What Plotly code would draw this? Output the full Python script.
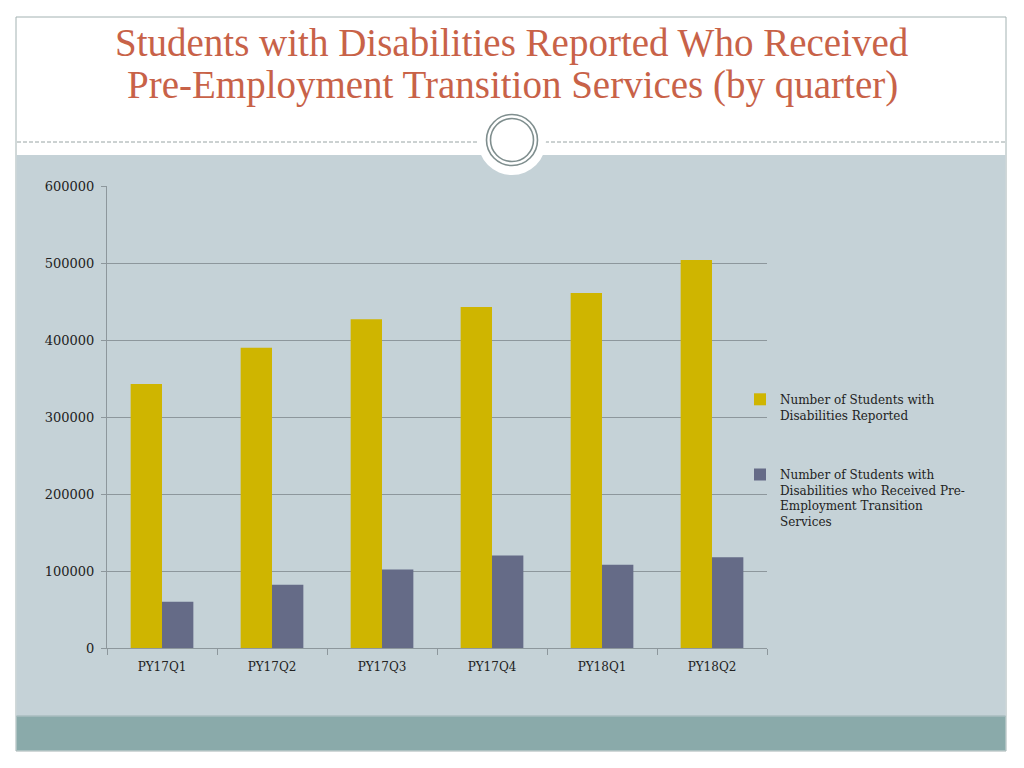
import plotly.graph_objects as go

categories = ["PY17Q1", "PY17Q2", "PY17Q3", "PY17Q4", "PY18Q1", "PY18Q2"]
reported = [343000, 390000, 427000, 443000, 461000, 504000]
received = [60000, 82000, 102000, 120000, 108000, 118000]
series_names = [
    "Number of Students with<br>Disabilities Reported",
    "Number of Students with<br>Disabilities who Received Pre-<br>Employment Transition<br>Services",
]
title_lines = [
    "Students with Disabilities Reported Who Received",
    "Pre-Employment Transition Services (by quarter)",
]

W, H = 1024, 768
PL, PR, PT, PB = 107, 767, 186, 648


def px(x):
    return (x - PL) / (PR - PL)


def py(y):
    return (PB - y) / (PB - PT)


fig = go.Figure()
fig.add_trace(go.Bar(x=categories, y=reported, name=series_names[0],
                     marker=dict(color="#CFB500", line=dict(width=0)),
                     legendgroup="a"))
fig.add_trace(go.Bar(x=categories, y=received, name=series_names[1],
                     marker=dict(color="#656B87", line=dict(width=0)),
                     legendgroup="b"))

grid = "#8D979C"
shapes = [
    # slide frame
    dict(type="rect", xref="paper", yref="paper", x0=px(16), x1=px(1006), y0=py(17), y1=py(751),
         fillcolor="white", line=dict(color="#A3B2B2", width=1), layer="below"),
    # panel
    dict(type="rect", xref="paper", yref="paper", x0=px(16.5), x1=px(1005.5), y0=py(155), y1=py(716),
         fillcolor="#C5D2D7", line=dict(width=0), layer="below"),
    # bottom strip
    dict(type="rect", xref="paper", yref="paper", x0=px(16.5), x1=px(1005.5), y0=py(716), y1=py(750.5),
         fillcolor="#8AAAAA", line=dict(width=0), layer="below"),
    dict(type="line", xref="paper", yref="paper", x0=px(16.5), x1=px(1005.5), y0=py(716), y1=py(716),
         line=dict(color="#A9BDBF", width=1.5), layer="below"),
    # dashed rule
    dict(type="line", xref="paper", yref="paper", x0=px(17), x1=px(1005), y0=py(142), y1=py(142),
         line=dict(color="#98A4A4", width=1, dash="4px,2px"), layer="below"),
    # ornament circle
    dict(type="circle", xref="paper", yref="paper", x0=px(512 - 34), x1=px(512 + 34),
         y0=py(141 - 34), y1=py(141 + 34), fillcolor="white", line=dict(width=0), layer="below"),
    dict(type="circle", xref="paper", yref="paper", x0=px(512 - 25.5), x1=px(512 + 25.5),
         y0=py(140 - 25.5), y1=py(140 + 25.5), fillcolor="rgba(0,0,0,0)",
         line=dict(color="#7F8E8E", width=1.6), layer="below"),
    dict(type="circle", xref="paper", yref="paper", x0=px(512 - 21.5), x1=px(512 + 21.5),
         y0=py(140 - 21.5), y1=py(140 + 21.5), fillcolor="rgba(0,0,0,0)",
         line=dict(color="#7F8E8E", width=1.6), layer="below"),
]

annotations = []
for i, t in enumerate(title_lines):
    annotations.append(dict(text=t, xref="paper", yref="paper", x=px(512), y=py(43 + 42 * i),
                            xanchor="center", yanchor="middle", showarrow=False,
                            font=dict(family="Liberation Serif", size=39, color="#C86248")))

fig.update_layout(
    width=W, height=H,
    margin=dict(l=PL, r=W - PR, t=PT, b=H - PB, pad=0),
    paper_bgcolor="white",
    plot_bgcolor="rgba(0,0,0,0)",
    barmode="group", bargap=0.43, bargroupgap=0,
    shapes=shapes, annotations=annotations,
    showlegend=True,
    legend=dict(x=px(740), y=py(385), xanchor="left", yanchor="top",
                bgcolor="rgba(0,0,0,0)", tracegroupgap=41, valign="top",
                font=dict(family="DejaVu Serif", size=12, color="#222222"),
                itemwidth=30, traceorder="grouped"),
    xaxis=dict(showline=True, linecolor=grid, linewidth=1, ticks="outside", tickson="boundaries",
               ticklen=6, tickcolor=grid, showgrid=False, ticklabelstandoff=8,
               tickfont=dict(family="DejaVu Serif", size=12, color="#222222")),
    yaxis=dict(range=[0, 600000], dtick=100000, tickformat="d", showgrid=True, gridcolor=grid,
               gridwidth=1, showline=True, linecolor=grid, linewidth=1, ticks="outside", ticklen=5,
               tickcolor=grid, zeroline=False, ticklabelstandoff=4,
               tickfont=dict(family="DejaVu Serif", size=13, color="#222222")),
)

fig.write_html("out.html", config={"displayModeBar": False},
               post_script="document.body.style.margin='0';")
